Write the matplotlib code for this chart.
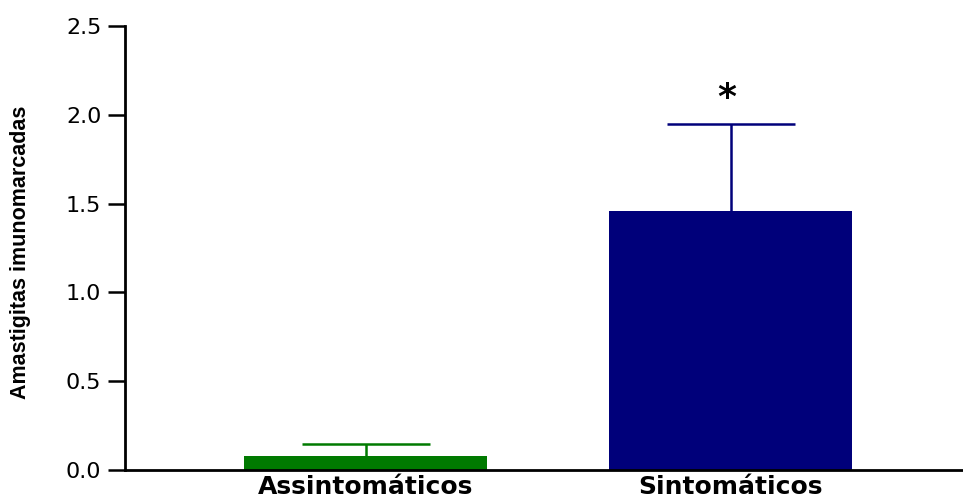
import matplotlib
matplotlib.use("Agg")
import matplotlib.pyplot as plt

grupos = ["Assintomáticos", "Sintomáticos"]
medias = [0.08, 1.46]
erros = [0.065, 0.49]
cores = ["#007A00", "#00007A"]

fig = plt.figure(figsize=(9.63, 4.99), dpi=100)
ax = fig.add_axes([0.1298, 0.058, 0.8702, 0.89])

pos = list(range(len(grupos)))
ax.bar(pos, medias, width=0.666, color=cores, zorder=2)
for p, m, e, c in zip(pos, medias, erros, cores):
    _, caps, _ = ax.errorbar(p, m, yerr=[[0], [e]], color=c, capsize=46,
                             capthick=1.8, elinewidth=1.8, fmt="none", zorder=1)
    caps[0].set_visible(False)  # só o erro para cima

ax.text(pos[1] - 0.01, medias[1] + erros[1] + 0.05, "*", ha="center", va="bottom",
        fontsize=26, fontweight="bold", family="DejaVu Sans")

ax.set_xlim(-0.66, 1.636)
ax.set_ylim(0, 2.5)
ax.set_yticks([0, 0.5, 1.0, 1.5, 2.0, 2.5])
ax.set_yticklabels(["0.0", "0.5", "1.0", "1.5", "2.0", "2.5"],
                   fontsize=16, family="DejaVu Sans")
ax.set_xticks(pos)
ax.set_xticklabels(grupos, fontsize=18, fontweight="bold", family="DejaVu Sans")
ax.tick_params(axis="x", length=0, pad=3.5)
ax.tick_params(axis="y", length=12, width=1.8, pad=5)
ax.spines["top"].set_visible(False)
ax.spines["right"].set_visible(False)
ax.spines["left"].set_linewidth(2)
ax.spines["bottom"].set_linewidth(2)
ax.set_ylabel("Amastigitas imunomarcadas", fontsize=15.5, fontweight="bold",
              family="Liberation Sans")
ax.yaxis.set_label_coords(-0.112, 0.49)

fig.savefig("out.png", dpi=100)
